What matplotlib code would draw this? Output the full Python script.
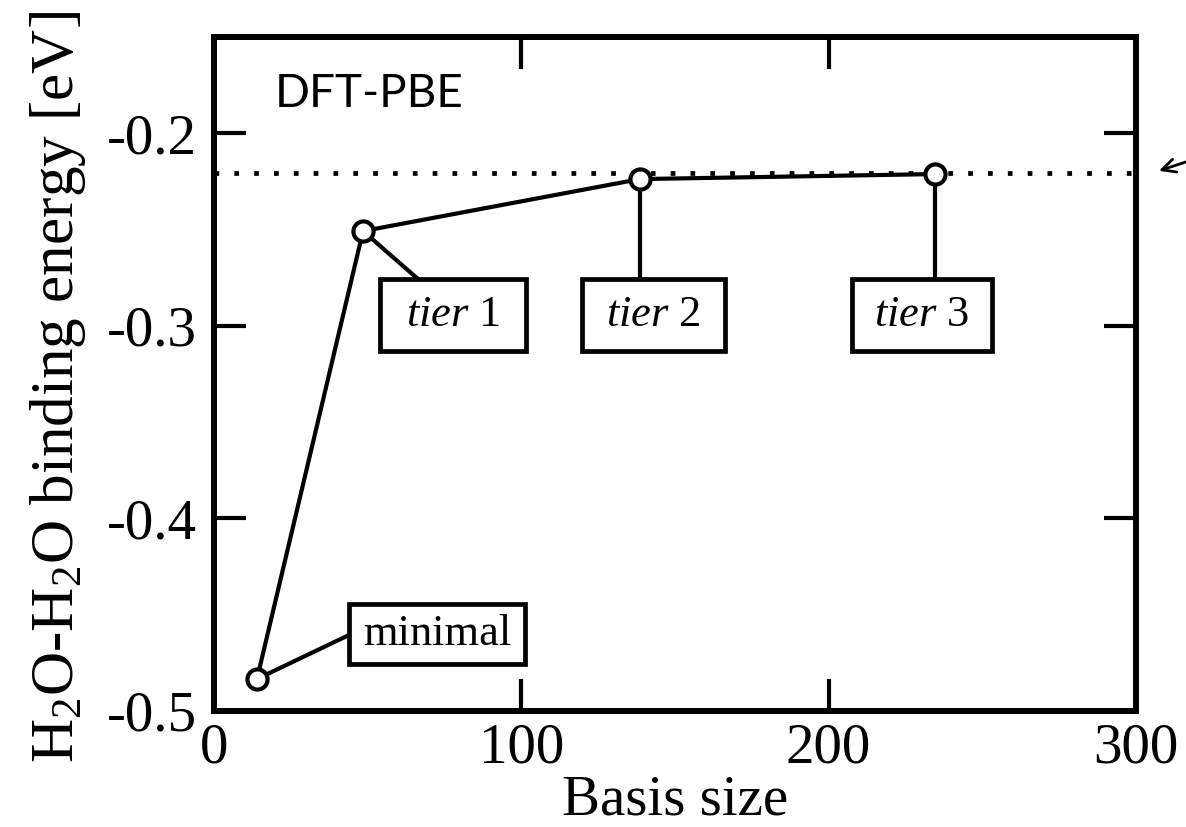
import matplotlib
matplotlib.use('Agg')
import matplotlib.pyplot as plt
from matplotlib.patches import Rectangle

# basis sizes and binding energies (eV)
basis = [14, 48.5, 138.6, 234.6]
energy = [-0.4834, -0.2508, -0.2238, -0.2212]
labels = ['minimal', r'$\mathit{tier}$ 1', r'$\mathit{tier}$ 2', r'$\mathit{tier}$ 3']
ref_energy = -0.2207

# label boxes: (x0, y0, width, height) in data coords, and where the connector meets the box
boxes = [(43.9, -0.4756, 57.3, 0.0310),
         (54.0, -0.3130, 47.5, 0.0373),
         (119.7, -0.3130, 46.5, 0.0373),
         (207.6, -0.3130, 45.6, 0.0373)]
attach = [(43.9, -0.4606), (66.4, -0.2757), (138.6, -0.2757), (234.6, -0.2757)]

plt.rcParams['font.family'] = ['Liberation Serif', 'DejaVu Serif']
plt.rcParams['mathtext.fontset'] = 'custom'
plt.rcParams['mathtext.rm'] = 'Liberation Serif'
plt.rcParams['mathtext.it'] = 'Liberation Serif:italic'

fig = plt.figure(figsize=(11.86, 8.27), dpi=100)
ax = fig.add_axes([0.1804, 0.1403, 0.7774, 0.8150])

ax.axhline(ref_energy, color='black', lw=3.4, linestyle=(0, (1, 3.2)), zorder=1)

# connectors and boxes
for (x, y), (ax_x, ax_y) in zip(zip(basis, energy), attach):
    ax.plot([x, ax_x], [y, ax_y], color='black', lw=3, zorder=2)
for (x0, y0, w, h), lab in zip(boxes, labels):
    ax.add_patch(Rectangle((x0, y0), w, h, fc='white', ec='black', lw=3.4, zorder=2))
    ax.text(x0 + w / 2, y0 + h / 2, lab, fontsize=32, ha='center', va='center', zorder=3)

ax.plot(basis, energy, color='black', lw=3, marker='o', ms=14.5,
        mfc='white', mec='black', mew=3, zorder=4)

# arrow outside the frame pointing at the reference line
ax.annotate('', xy=(307.5, -0.2195), xytext=(318, -0.2140),
            annotation_clip=False,
            arrowprops=dict(arrowstyle='->', lw=2, color='black',
                            shrinkA=0, shrinkB=0, mutation_scale=24))

ax.text(0.066, 0.896, 'DFT-PBE', transform=ax.transAxes, fontsize=33,
        family='Lato', va='baseline', ha='left')

ax.set_xlim(0, 300)
ax.set_ylim(-0.5, -0.15)
ax.set_xticks([0, 100, 200, 300])
ax.set_yticks([-0.5, -0.4, -0.3, -0.2])
ax.set_yticklabels(['-0.5', '-0.4', '-0.3', '-0.2'])
ax.tick_params(direction='in', length=23, width=3, labelsize=41,
               top=True, right=True)
ax.tick_params(axis='y', pad=12)
ax.tick_params(axis='x', pad=8)
for s in ax.spines.values():
    s.set_linewidth(4.3)

ax.set_xlabel('Basis size', fontsize=41, labelpad=0)
ax.set_ylabel(r'H$_2$O-H$_2$O binding energy [eV]', fontsize=44)
ax.yaxis.set_label_coords(-0.137, 0.48)

fig.savefig('out.png', dpi=100)
